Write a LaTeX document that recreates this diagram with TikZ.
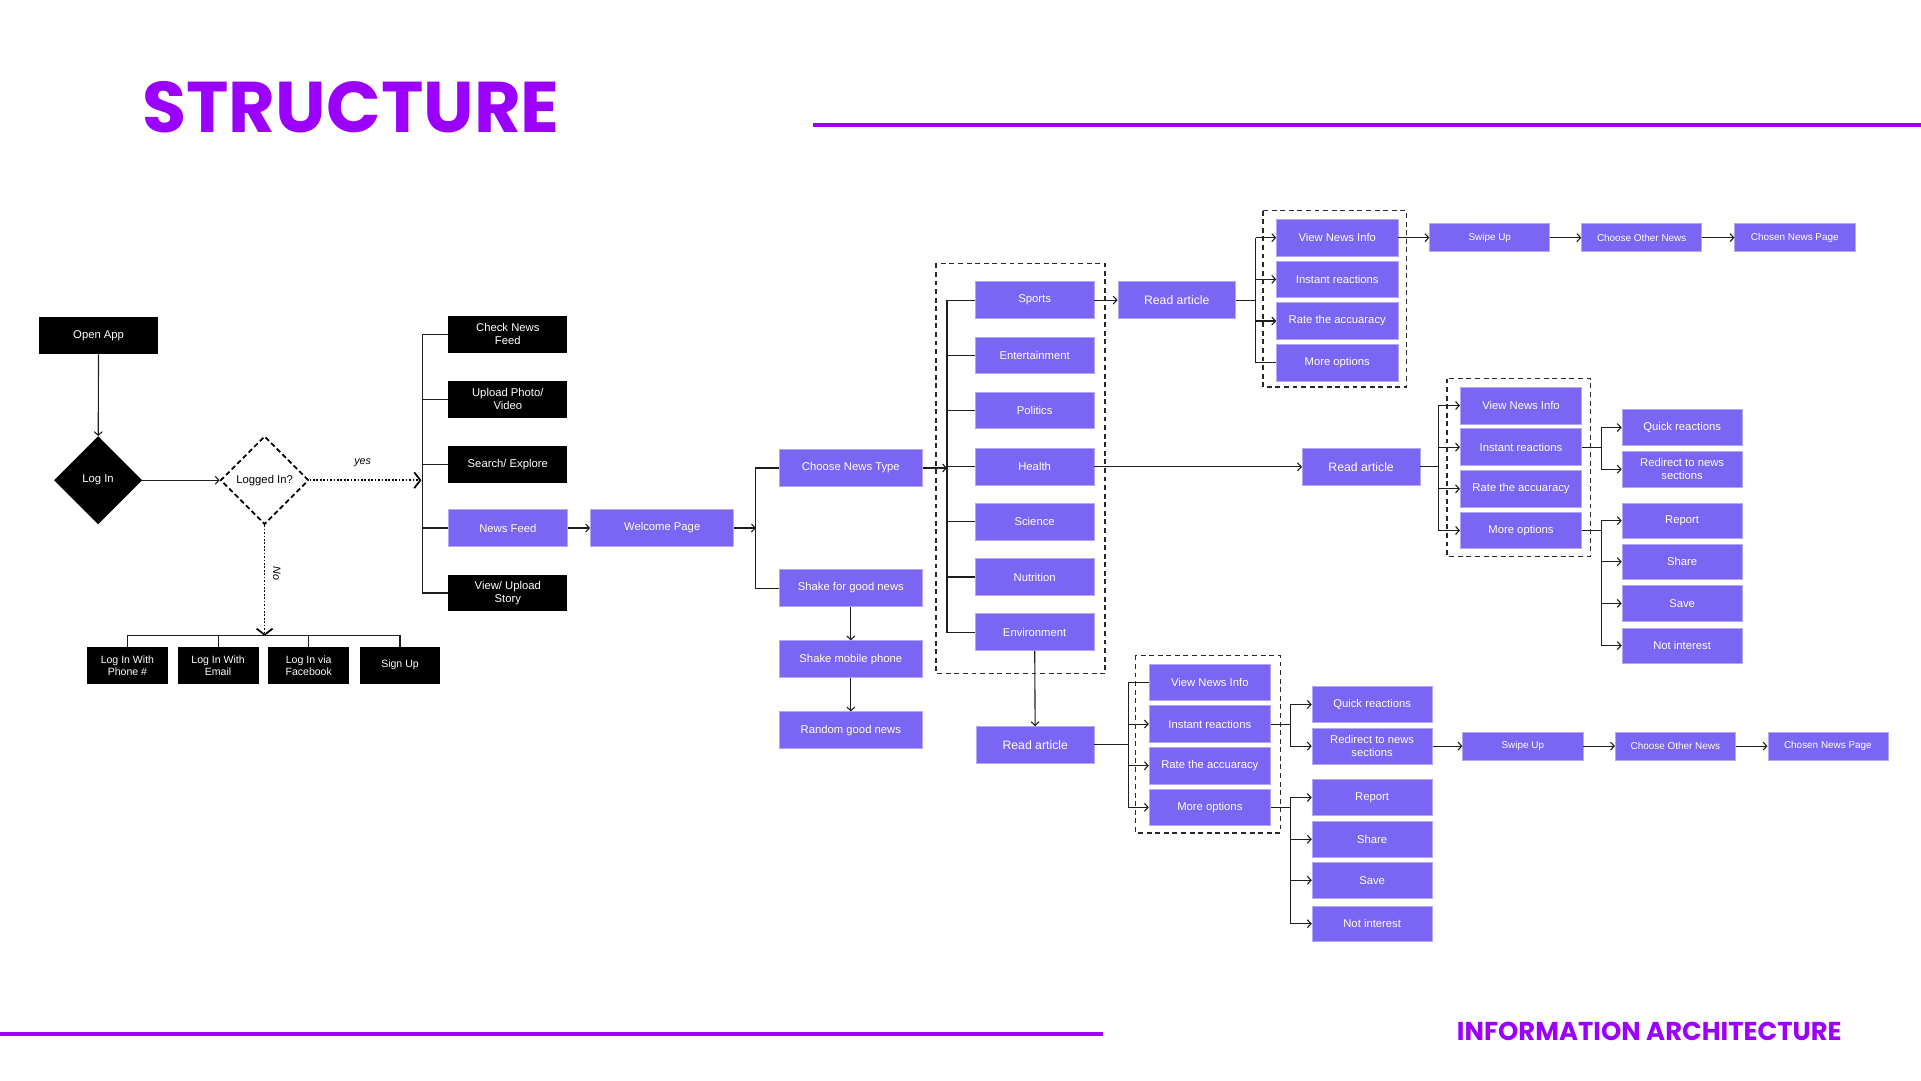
\documentclass[tikz,border=0pt]{standalone}
\usepackage{fontspec}
\setmainfont{Liberation Sans}
\newfontfamily\titlefont{Poppins}
\usetikzlibrary{arrows.meta,shapes.geometric}
\definecolor{pcol}{RGB}{122,102,242}
\definecolor{pedge}{RGB}{178,168,250}
\definecolor{tcol}{RGB}{155,0,255}
\definecolor{lcol}{RGB}{30,30,30}
\definecolor{gcol}{RGB}{40,40,40}
\tikzset{
 base/.style={rectangle, inner sep=0pt, align=center, text=white, font=\fontsize{9.2}{10.6}\selectfont},
 blk/.style={base, fill=black, minimum width=97pt, minimum height=30pt},
 blks/.style={blk, minimum width=66pt, font=\fontsize{8.6}{9.8}\selectfont},
 pur/.style={base, fill=pcol, draw=pedge, line width=0.6pt, minimum width=97pt, minimum height=30pt},
 purw/.style={pur, minimum width=117pt},
 pw/.style={pur, minimum width=99pt},
 sub/.style={pur, minimum width=98pt, minimum height=29pt},
 rdart/.style={pur, minimum width=96pt, font=\fontsize{10}{11.5}\selectfont},
 sm/.style={pur, minimum width=98pt, minimum height=23pt, font=\fontsize{8.1}{9.2}\selectfont},
 conn/.style={draw=lcol, line width=0.9pt},
 arr/.style={conn, -{Straight Barb[length=3pt,width=6.5pt]}},
 dotarr/.style={draw=black, line width=1.4pt, dash pattern=on 1.4pt off 1.4pt, -{Straight Barb[length=5pt,width=13pt,line width=1.4pt]}},
 grp/.style={draw=gcol, line width=1.1pt, dash pattern=on 4pt off 3pt},
 lbl/.style={font=\fontsize{8.8}{10}\selectfont\itshape, text=black, inner sep=1pt},
}
\begin{document}
\begin{tikzpicture}[x=1pt,y=-1pt]
\useasboundingbox (0,0) rectangle (1568,882);
% header / footer
\node[anchor=base west, inner sep=0pt, text=tcol, font=\titlefont\bfseries\fontsize{58.6}{60}\selectfont] (title) at (116,108) {STRUCTURE};
\draw[tcol, line width=3pt] (664,102) -- (1568,102);
\draw[tcol, line width=3pt] (0,844) -- (900,844);
\node[anchor=base west, inner sep=0pt, text=tcol, font=\titlefont\bfseries\fontsize{21.1}{24}\selectfont] (foot) at (1189,849) {INFORMATION ARCHITECTURE};

% left part
\node[blk] (openapp) at (80.5,274) {Open App};
\node[diamond, fill=black, text=white, minimum width=72pt, minimum height=72pt, inner sep=0pt, font=\fontsize{9.2}{10}\selectfont] (login) at (80,392) {Log In};
\node[diamond, fill=white, draw=black, line width=1.4pt, dash pattern=on 4pt off 2.5pt, text=black, minimum width=72pt, minimum height=72pt, inner sep=0pt, font=\fontsize{9.2}{10}\selectfont] (loggedin) at (216,392) {Logged In?};
\draw[arr] (openapp) -- (login);
\draw[arr] (login) -- (loggedin);

\coordinate (b1) at (344,392);
\coordinate (nobr) at (216,519);
\draw[dotarr] (loggedin.east) -- (b1);
\node[lbl] (yes) at (296,378) {yes};
\draw[dotarr] (loggedin.south) -- (nobr);
\node[lbl, rotate=-90] (no) at (226,468) {No};

\node[blks] (phone) at (104,543) {Log In With\\Phone \#};
\node[blks] (email) at (178,543) {Log In With\\Email};
\node[blks] (facebook) at (252,543) {Log In via\\Facebook};
\node[blks, minimum width=65pt] (signup) at (326.5,543) {Sign Up};
\draw[conn] (phone.north) |- (nobr) -| (signup.north);
\draw[conn] (email.north) -- (email.north |- nobr);
\draw[conn] (facebook.north) -- (facebook.north |- nobr);

\node[blk] (checknews) at (414.5,273) {Check News\\Feed};
\node[blk] (upload) at (414.5,326) {Upload Photo/\\Video};
\node[blk] (search) at (414.5,379) {Search/ Explore};
\node[pur] (newsfeed) at (414.5,431) {News Feed};
\node[blk] (story) at (414.5,484) {View/ Upload\\Story};
\coordinate (b1x) at (345,392);
\draw[conn] (checknews.west) -- (checknews.west -| b1x) -- (story.west -| b1x) -- (story.west);
\draw[conn] (upload.west) -- (upload.west -| b1x);
\draw[conn] (search.west) -- (search.west -| b1x);
\draw[conn] (newsfeed.west) -- (newsfeed.west -| b1x);

\node[purw] (welcome) at (540.5,431) {Welcome Page};
\draw[arr] (newsfeed) -- (welcome);
\coordinate (b2) at (617,431);
\draw[arr] (welcome.east) -- (b2);

\node[purw] (choose) at (694.5,382) {Choose News Type};
\node[purw] (shake) at (694.5,480) {Shake for good news};
\node[purw] (shakephone) at (694.5,538) {Shake mobile phone};
\node[purw] (random) at (694.5,596) {Random good news};
\draw[conn] (choose.west) -- (choose.west -| b2) -- (shake.west -| b2) -- (shake.west);
\draw[arr] (shake) -- (shakephone);
\draw[arr] (shakephone) -- (random);

% categories
\draw[grp] (764,215) rectangle (902,550);
\node[pur] (sports) at (844.5,245) {Sports};
\node[pur] (entertainment) at (844.5,290) {Entertainment};
\node[pur] (politics) at (844.5,335) {Politics};
\node[pur] (health) at (844.5,381) {Health};
\node[pur] (science) at (844.5,426) {Science};
\node[pur] (nutrition) at (844.5,471) {Nutrition};
\node[pur] (environment) at (844.5,516) {Environment};
\coordinate (b3) at (773,382);
\draw[arr] (choose.east) -- (b3);
\draw[conn] (sports.west) -- (sports.west -| b3) -- (environment.west -| b3) -- (environment.west);
\foreach \n in {entertainment,politics,health,science,nutrition}
  \draw[conn] (\n.west) -- (\n.west -| b3);

% branch 1 (sports)
\node[rdart] (read1) at (960.5,245) {Read article};
\draw[arr] (sports) -- (read1);
\draw[grp] (1031,172) rectangle (1148,316);
\node[pw] (vni1) at (1091.5,194) {View News Info};
\node[pw] (ir1) at (1091.5,228) {Instant reactions};
\node[pw] (ra1) at (1091.5,262) {Rate the accuaracy};
\node[pw] (mo1) at (1091.5,296) {More options};
\coordinate (b4) at (1025,245);
\draw[conn] (read1.east) -- (b4);
\draw[conn] (vni1.west -| b4) -- (mo1.west -| b4) -- (mo1.west);
\draw[arr] (vni1.west -| b4) -- (vni1.west);
\draw[arr] (ir1.west -| b4) -- (ir1.west);
\draw[arr] (ra1.west -| b4) -- (ra1.west);
\node[sm] (su1) at (1216,194) {Swipe Up};
\node[sm] (con1) at (1340,194) {Choose Other News};
\node[sm] (cnp1) at (1465,194) {Chosen News Page};
\draw[arr] (vni1) -- (su1);
\draw[arr] (su1) -- (con1);
\draw[arr] (con1) -- (cnp1);

% branch 2 (health)
\node[rdart] (read2) at (1111,381) {Read article};
\draw[arr] (health) -- (read2);
\draw[grp] (1181,309) rectangle (1298,454);
\node[pw] (vni2) at (1241.5,331) {View News Info};
\node[pw] (ir2) at (1241.5,365) {Instant reactions};
\node[pw] (ra2) at (1241.5,399) {Rate the accuaracy};
\node[pw] (mo2) at (1241.5,433) {More options};
\coordinate (b5) at (1174,381);
\draw[conn] (read2.east) -- (b5);
\draw[conn] (vni2.west -| b5) -- (mo2.west -| b5);
\foreach \n in {vni2,ir2,ra2,mo2}
  \draw[arr] (\n.west -| b5) -- (\n.west);
\coordinate (b6) at (1307,0);
\node[sub] (qr2) at (1373,349) {Quick reactions};
\node[sub] (rd2) at (1373,383) {Redirect to news\\sections};
\node[sub] (rp2) at (1373,425) {Report};
\node[sub] (sh2) at (1373,458.5) {Share};
\node[sub] (sv2) at (1373,492.5) {Save};
\node[sub] (ni2) at (1373,527) {Not interest};
\draw[conn] (ir2.east) -- (ir2.east -| b6);
\draw[conn] (qr2.west -| b6) -- (rd2.west -| b6);
\draw[arr] (qr2.west -| b6) -- (qr2.west);
\draw[arr] (rd2.west -| b6) -- (rd2.west);
\draw[conn] (mo2.east) -- (mo2.east -| b6);
\draw[conn] (rp2.west -| b6) -- (ni2.west -| b6);
\foreach \n in {rp2,sh2,sv2,ni2}
  \draw[arr] (\n.west -| b6) -- (\n.west);

% branch 3 (environment)
\node[rdart] (read3) at (845,608) {Read article};
\draw[arr] (environment) -- (read3);
\draw[grp] (927,535) rectangle (1045,680);
\node[pw] (vni3) at (987.5,557) {View News Info};
\node[pw] (ir3) at (987.5,591) {Instant reactions};
\node[pw] (ra3) at (987.5,625) {Rate the accuaracy};
\node[pw] (mo3) at (987.5,659) {More options};
\coordinate (b7) at (921,608);
\draw[conn] (read3.east) -- (b7);
\draw[conn] (vni3.west) -- (vni3.west -| b7) -- (mo3.west -| b7);
\foreach \n in {ir3,ra3,mo3}
  \draw[arr] (\n.west -| b7) -- (\n.west);
\coordinate (b8) at (1053,0);
\node[sub] (qr3) at (1120,575) {Quick reactions};
\node[sub] (rd3) at (1120,609) {Redirect to news\\sections};
\node[sub] (rp3) at (1120,651) {Report};
\node[sub] (sh3) at (1120,685) {Share};
\node[sub] (sv3) at (1120,718.5) {Save};
\node[sub] (ni3) at (1120,754) {Not interest};
\draw[conn] (ir3.east) -- (ir3.east -| b8);
\draw[conn] (qr3.west -| b8) -- (rd3.west -| b8);
\draw[arr] (qr3.west -| b8) -- (qr3.west);
\draw[arr] (rd3.west -| b8) -- (rd3.west);
\draw[conn] (mo3.east) -- (mo3.east -| b8);
\draw[conn] (rp3.west -| b8) -- (ni3.west -| b8);
\foreach \n in {rp3,sh3,sv3,ni3}
  \draw[arr] (\n.west -| b8) -- (\n.west);
\node[sm] (su3) at (1243,609) {Swipe Up};
\node[sm] (con3) at (1367.5,609) {Choose Other News};
\node[sm] (cnp3) at (1492,609) {Chosen News Page};
\draw[arr] (rd3) -- (su3);
\draw[arr] (su3) -- (con3);
\draw[arr] (con3) -- (cnp3);
\end{tikzpicture}
\end{document}
